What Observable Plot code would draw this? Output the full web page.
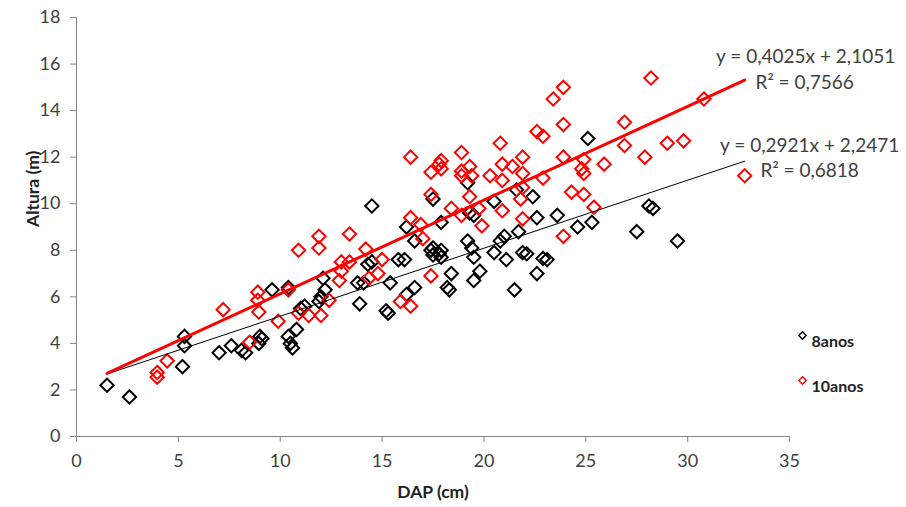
<!DOCTYPE html>
<html>
<head>
<meta charset="utf-8">
<script src="https://cdn.jsdelivr.net/npm/d3@7"></script>
<script src="https://cdn.jsdelivr.net/npm/@observablehq/plot@0.6"></script>
<style>
  html, body { margin: 0; padding: 0; background: #fff; }
  #chart { width: 906px; height: 507px; }
</style>
</head>
<body>
<div id="chart"></div>
<script>
// ---- Data ----
const seriesNames = ["8anos", "10anos"];
const seriesColors = ["#000000", "#FF0000"];

const dap8 = [1.5, 2.6, 5.3, 5.3, 5.2, 7.0, 7.6, 8.1, 8.3, 9.0, 9.1, 8.95, 9.6, 10.4, 10.4, 10.5, 10.6, 10.8, 11.0, 11.2,
  11.9, 12.1, 12.2, 12.0, 13.8, 14.1, 13.9, 14.3, 14.5, 14.5, 15.2, 15.3, 15.4, 15.8, 16.1, 16.2, 16.6, 16.6, 17.4, 17.5,
  17.9, 17.9, 17.9, 17.5, 18.2, 18.3, 18.4, 17.5, 17.8, 19.2, 19.2, 19.4, 19.5, 19.5, 19.8, 19.3, 19.5, 20.5, 20.5, 20.8,
  21.0, 21.1, 21.5, 21.6, 21.7, 21.9, 22.1, 22.4, 22.6, 22.6, 22.9, 23.1, 23.6, 24.6, 25.1, 25.3, 27.5, 28.1, 28.3, 29.5, 16.2];
const altura8 = [2.2, 1.7, 4.3, 3.9, 3.0, 3.6, 3.9, 3.7, 3.6, 4.3, 4.2, 4.0, 6.3, 6.4, 4.3, 4.0, 3.8, 4.6, 5.5, 5.6,
  5.8, 6.8, 6.3, 6.0, 6.6, 6.6, 5.7, 7.4, 7.5, 9.9, 5.4, 5.3, 6.6, 7.6, 7.6, 9.0, 6.4, 8.4, 8.0, 7.8,
  8.0, 7.7, 9.2, 10.2, 6.4, 6.3, 7.0, 8.1, 7.85, 10.9, 8.4, 8.1, 7.7, 6.7, 7.1, 9.6, 9.5, 10.1, 7.9, 8.4,
  8.6, 7.6, 6.3, 10.6, 8.8, 7.9, 7.85, 10.3, 9.4, 7.0, 7.65, 7.6, 9.5, 9.0, 12.8, 9.2, 8.8, 9.9, 9.8, 8.4, 6.1];

const dap10 = [3.96, 3.96, 4.45, 7.2, 8.5, 8.9, 8.9, 8.95, 9.9, 10.4, 10.9, 10.9, 11.4, 12.0, 11.9, 11.9, 12.4, 12.9, 13.0, 13.0,
  13.4, 13.4, 14.2, 14.35, 14.8, 15.0, 15.9, 16.4, 16.4, 16.4, 16.9, 17.0, 17.4, 17.4, 17.4, 17.8, 17.9, 17.9, 18.4, 18.9,
  18.9, 18.9, 18.9, 19.3, 19.4, 19.3, 19.75, 19.9, 20.3, 20.8, 20.9, 20.9, 20.9, 21.4, 21.9, 21.9, 21.8, 21.9, 21.9, 22.6,
  22.9, 22.9, 23.4, 23.9, 23.9, 23.9, 23.9, 24.3, 24.8, 24.9, 24.9, 24.9, 25.4, 25.9, 26.9, 26.9, 27.9, 28.2, 29.0, 29.8, 30.8, 32.8];
const altura10 = [2.75, 2.55, 3.25, 5.45, 4.05, 6.2, 5.85, 5.35, 4.95, 6.3, 5.3, 8.0, 5.2, 5.2, 8.6, 8.1, 5.85, 6.7, 7.5, 7.1,
  7.5, 8.7, 8.05, 6.8, 7.0, 7.6, 5.8, 5.6, 9.4, 12.0, 9.1, 8.5, 10.4, 11.35, 6.9, 11.7, 11.5, 11.85, 9.8, 12.2,
  11.4, 11.2, 9.5, 11.6, 11.2, 10.3, 9.8, 9.05, 11.2, 12.6, 11.7, 11.0, 9.7, 11.6, 12.0, 11.3, 10.2, 10.7, 9.35, 13.1,
  12.9, 11.1, 14.5, 15.0, 13.4, 12.0, 8.6, 10.5, 11.5, 11.3, 10.4, 11.9, 9.85, 11.7, 13.5, 12.5, 12.0, 15.4, 12.6, 12.7, 14.5, 11.2];

// Trend lines (coefficients printed on the chart)
const trendSlopes = [0.2921, 0.4025];
const trendIntercepts = [2.2471, 2.1051];
const trendRange = [1.5, 32.8];
const trendEquations = ["y = 0,2921x + 2,2471", "y = 0,4025x + 2,1051"];
const trendR2 = ["R² = 0,6818", "R² = 0,7566"];

const xTicks = [0, 5, 10, 15, 20, 25, 30, 35];
const yTicks = [0, 2, 4, 6, 8, 10, 12, 14, 16, 18];
const xLabel = "DAP (cm)";
const yLabel = "Altura (m)";

// ---- Build tables ----
const points = [
  ...dap8.map((d, i) => ({dap: d, altura: altura8[i], serie: seriesNames[0]})),
  ...dap10.map((d, i) => ({dap: d, altura: altura10[i], serie: seriesNames[1]}))
];
const trendLines = seriesNames.flatMap((s, k) =>
  trendRange.map(x => ({serie: s, dap: x, altura: trendSlopes[k] * x + trendIntercepts[k]})));
const trendEnds = seriesNames.map((s, k) => ({
  serie: s, dap: trendRange[1], altura: trendSlopes[k] * trendRange[1] + trendIntercepts[k],
  eq: trendEquations[k], r2: trendR2[k]
}));

const font = "Lato, 'Open Sans', sans-serif";
const axisGray = "#868686";
const textGray = "#404040";

function legendEntry(k, dy) {
  const item = [{serie: seriesNames[k]}];
  return [
    Plot.dot(item, {frameAnchor: "top-right", dx: 13, dy, stroke: "serie", symbol: "diamond2", r: 3.3, strokeWidth: 1.4, fill: "none"}),
    Plot.text(item, {frameAnchor: "top-right", dx: 22, dy, text: "serie", textAnchor: "start", fontSize: 16, fontWeight: "bold", fill: "#222"})
  ];
}

const chart = Plot.plot({
  width: 906,
  height: 507,
  marginLeft: 76,
  marginRight: 117,
  marginTop: 17,
  marginBottom: 71,
  style: {fontFamily: font, background: "#fff", overflow: "visible"},
  x: {domain: [0, 35]},
  y: {domain: [0, 18]},
  color: {domain: seriesNames, range: seriesColors},
  marks: [
    Plot.ruleY([0], {stroke: axisGray, strokeWidth: 1}),
    Plot.ruleX([0], {stroke: axisGray, strokeWidth: 1}),
    Plot.axisX({ticks: xTicks, tickSize: 6, tickPadding: 12, stroke: axisGray, color: textGray, fontSize: 18, label: null, tickFormat: d => String(d)}),
    Plot.axisY({ticks: yTicks, tickSize: 6, tickPadding: 10, stroke: axisGray, color: textGray, fontSize: 18, label: null, tickFormat: d => String(d)}),
    Plot.text([xLabel], {frameAnchor: "bottom", dy: 61, fontSize: 17.5, fontWeight: "bold", fill: "#222"}),
    Plot.text([yLabel], {frameAnchor: "left", dx: -43, rotate: -90, fontSize: 17.5, fontWeight: "bold", fill: "#222"}),
    Plot.dot(points, {x: "dap", y: "altura", stroke: "serie", symbol: "diamond2", r: 6, strokeWidth: 2, fill: "none"}),
    Plot.line(trendLines.filter(d => d.serie === seriesNames[0]), {x: "dap", y: "altura", stroke: "#000", strokeWidth: 1}),
    Plot.line(trendLines.filter(d => d.serie === seriesNames[1]), {x: "dap", y: "altura", stroke: "#FF0000", strokeWidth: 3}),
    Plot.text(trendEnds, {x: "dap", y: "altura", text: "eq", dx: 61, dy: -23, fontSize: 19, fill: textGray,
      filter: d => d.serie === seriesNames[1]}),
    Plot.text(trendEnds, {x: "dap", y: "altura", text: "r2", dx: 60, dy: 3, fontSize: 19, fill: textGray,
      filter: d => d.serie === seriesNames[1]}),
    Plot.text(trendEnds, {x: "dap", y: "altura", text: "eq", dx: 65, dy: -15, fontSize: 19, fill: textGray,
      filter: d => d.serie === seriesNames[0]}),
    Plot.text(trendEnds, {x: "dap", y: "altura", text: "r2", dx: 65, dy: 10, fontSize: 19, fill: textGray,
      filter: d => d.serie === seriesNames[0]}),
    ...legendEntry(0, 318),
    ...legendEntry(1, 363)
  ]
});
document.getElementById("chart").appendChild(chart);
</script>
</body>
</html>
